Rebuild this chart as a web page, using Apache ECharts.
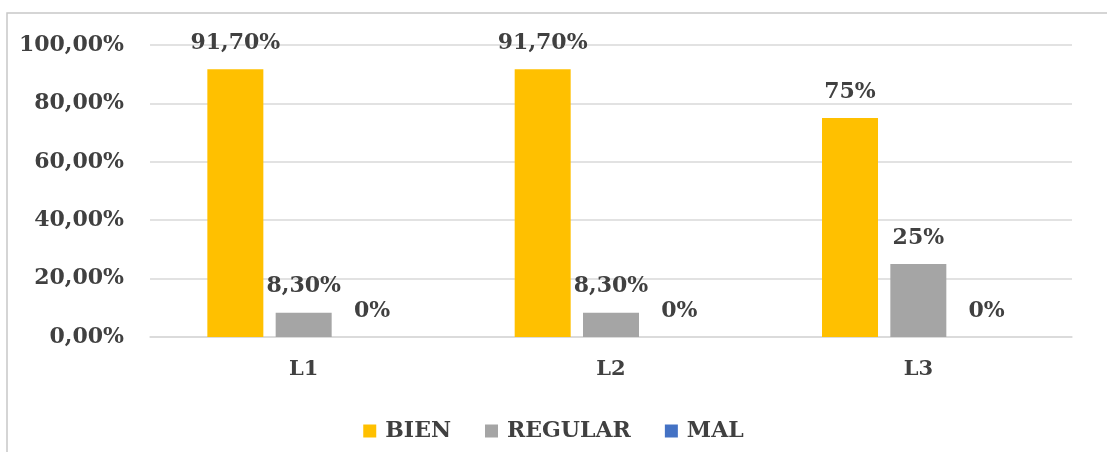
<!DOCTYPE html>
<html>
<head>
    <meta charset="utf-8">
    <title>BIEN / REGULAR / MAL</title>
    <script src="https://cdn.jsdelivr.net/npm/echarts@6/dist/echarts.min.js"></script>
    <style>
        html, body { margin: 0; padding: 0; background: #fff; }
    </style>
</head>
<body>
<div id="main" style="width: 1107px;height:452px;"></div>
<script type="text/javascript">
        // datos
        var categorias = ['L1', 'L2', 'L3'];
        var bien = [91.7, 91.7, 75];
        var regular = [8.3, 8.3, 25];
        var mal = [0, 0, 0];
        var etiquetasBien = ['91,70%', '91,70%', '75%'];
        var etiquetasRegular = ['8,30%', '8,30%', '25%'];
        var etiquetasMal = ['0%', '0%', '0%'];
        var ticksY = ['0,00%', '20,00%', '40,00%', '60,00%', '80,00%', '100,00%'];

        var fuente = 'DejaVu Serif';
        var gris = '#404040';

        function etiqueta(textos) {
            return {
                show: true,
                position: 'top',
                distance: 15,
                fontFamily: fuente,
                fontWeight: 'bold',
                fontSize: 22,
                color: gris,
                formatter: function (p) { return textos[p.dataIndex]; }
            };
        }

        var myChart = echarts.init(document.getElementById('main'));

        var option = {
            animation: false,
            graphic: [{
                type: 'rect',
                shape: { x: 7, y: 13, width: 1110, height: 450 },
                style: { fill: 'none', stroke: '#c8c8c8', lineWidth: 1.5 }
            }],
            grid: { left: 150, right: 35, top: 45, bottom: 115 },
            legend: {
                bottom: 5,
                left: 'center',
                itemWidth: 13,
                itemHeight: 13,
                itemGap: 34,
                icon: 'rect',
                textStyle: { fontFamily: fuente, fontWeight: 'bold', fontSize: 22, color: gris, padding: [0, 0, 0, 4] },
                data: ['BIEN', 'REGULAR', 'MAL']
            },
            xAxis: {
                type: 'category',
                data: categorias,
                axisLine: { lineStyle: { color: '#d9d9d9', width: 1.5 } },
                axisTick: { show: false },
                axisLabel: { margin: 22, fontFamily: fuente, fontWeight: 'bold', fontSize: 21, color: gris }
            },
            yAxis: {
                type: 'value',
                min: 0,
                max: 100,
                interval: 20,
                axisLine: { show: false },
                axisTick: { show: false },
                splitLine: { lineStyle: { color: '#d9d9d9', width: 1.5 } },
                axisLabel: {
                    margin: 26,
                    fontFamily: fuente, fontWeight: 'bold', fontSize: 22, color: gris,
                    formatter: function (v) { return ticksY[Math.round(v / 20)]; }
                }
            },
            series: [
                {
                    name: 'BIEN', type: 'bar', data: bien,
                    barWidth: 56, barGap: '22%',
                    itemStyle: { color: '#FFC000' },
                    label: etiqueta(etiquetasBien)
                },
                {
                    name: 'REGULAR', type: 'bar', data: regular,
                    barWidth: 56,
                    itemStyle: { color: '#A5A5A5' },
                    label: etiqueta(etiquetasRegular)
                },
                {
                    name: 'MAL', type: 'bar', data: mal,
                    barWidth: 56,
                    itemStyle: { color: '#4472C4' },
                    label: etiqueta(etiquetasMal)
                }
            ]
        };

        myChart.setOption(option);
    </script>
</body>
</html>
